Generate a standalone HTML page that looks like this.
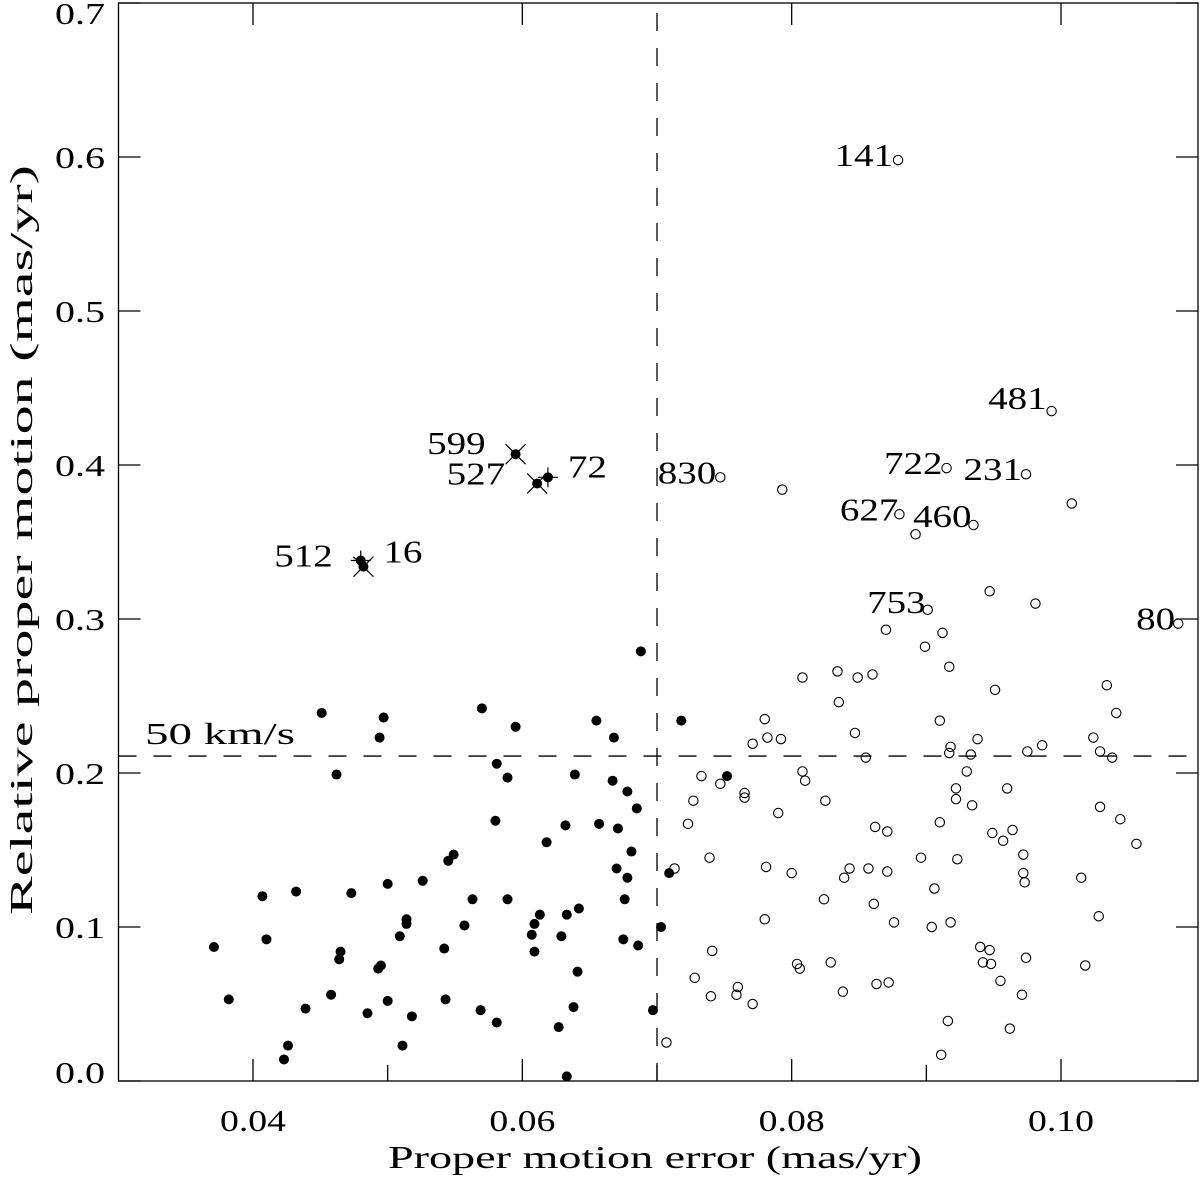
<!DOCTYPE html>
<html><head><meta charset="utf-8"><style>
html,body{margin:0;padding:0;background:#fff;}
svg{display:block;font-family:"Liberation Serif",serif;}
</style></head><body>
<svg id="chart" width="1200" height="1179" viewBox="0 0 1200 1179"></svg>
<script>
const filledX=[0.0688,0.0451,0.0497,0.0494,0.0570,0.0595,0.0655,0.0668,0.0462,0.0581,0.0589,0.0639,0.0667,0.0678,0.0685,0.0580,0.0632,0.0657,0.0671,0.0618,0.0681,0.0549,0.0545,0.0670,0.0678,0.0526,0.0500,0.0432,0.0473,0.0407,0.0563,0.0589,0.0676,0.0642,0.0613,0.0633,0.0514,0.0514,0.0609,0.0557,0.0703,0.0607,0.0410,0.0509,0.0629,0.0675,0.0686,0.0371,0.0542,0.0609,0.0465,0.0464,0.0495,0.0493,0.0641,0.0382,0.0458,0.0439,0.0500,0.0543,0.0485,0.0518,0.0569,0.0638,0.0697,0.0581,0.0627,0.0426,0.0423,0.0511,0.0633,0.0718,0.0752,0.0709];
const filledY=[0.279,0.239,0.236,0.223,0.242,0.230,0.234,0.223,0.199,0.206,0.197,0.199,0.195,0.188,0.177,0.169,0.166,0.167,0.164,0.155,0.149,0.147,0.143,0.138,0.132,0.130,0.128,0.123,0.122,0.120,0.118,0.118,0.118,0.112,0.108,0.108,0.105,0.102,0.102,0.101,0.100,0.095,0.092,0.094,0.094,0.092,0.088,0.087,0.086,0.084,0.084,0.079,0.075,0.073,0.071,0.053,0.056,0.047,0.052,0.053,0.044,0.042,0.046,0.048,0.046,0.038,0.035,0.023,0.014,0.023,0.003,0.234,0.198,0.135];
const openX=[0.0899,0.0917,0.0808,0.0834,0.0849,0.0860,0.0951,0.1034,0.0835,0.1041,0.0780,0.0910,0.0847,0.0782,0.0792,0.0938,0.1024,0.0771,0.0986,0.0918,0.0917,0.0975,0.1029,0.0855,0.0933,0.1038,0.0808,0.0733,0.0747,0.0810,0.0930,0.0922,0.0960,0.0765,0.0765,0.0727,0.0825,0.0922,0.0934,0.1029,0.0790,0.1044,0.0723,0.0910,0.0862,0.0871,0.0949,0.0964,0.0957,0.1056,0.0739,0.0896,0.0972,0.0713,0.0781,0.0800,0.0843,0.0857,0.0871,0.0923,0.0839,0.0972,0.0973,0.1015,0.0906,0.0824,0.0861,0.1028,0.0780,0.0876,0.0904,0.0918,0.0741,0.0940,0.0947,0.0974,0.0804,0.0806,0.0829,0.0942,0.0948,0.1018,0.0728,0.0955,0.0760,0.0740,0.0759,0.0771,0.0838,0.0863,0.0872,0.0971,0.0916,0.0962,0.0707,0.0911,
0.0879,0.0993,0.0915,0.0974,0.0747,0.0793,0.1008,0.0880,0.0935,0.0892,0.0947,0.0901,0.0981,0.1087,0.0870,0.0912];
const openY=[0.282,0.269,0.262,0.266,0.262,0.264,0.254,0.257,0.246,0.239,0.235,0.234,0.226,0.223,0.222,0.222,0.223,0.219,0.218,0.217,0.213,0.214,0.214,0.210,0.212,0.210,0.201,0.198,0.193,0.195,0.201,0.190,0.190,0.187,0.184,0.182,0.182,0.183,0.179,0.178,0.174,0.170,0.167,0.168,0.165,0.162,0.161,0.163,0.156,0.154,0.145,0.145,0.147,0.138,0.139,0.135,0.138,0.138,0.136,0.144,0.132,0.135,0.129,0.132,0.125,0.118,0.115,0.107,0.105,0.103,0.100,0.103,0.0845,0.087,0.085,0.080,0.076,0.073,0.077,0.077,0.076,0.075,0.067,0.065,0.061,0.055,0.056,0.050,0.058,0.063,0.064,0.056,0.039,0.034,0.025,0.017,
0.598,0.435,0.398,0.394,0.392,0.384,0.375,0.368,0.361,0.355,0.318,0.306,0.310,0.297,0.293,0.291];
const starX=[0.0595,0.0611,0.0619,0.0480,0.0482];
const starY=[0.407,0.388,0.392,0.338,0.334];
const starMark=['x','x','+','+','x'];
const labelText=['141','481','722','231','830','627','460','753','80','599','527','72','512','16'];
const labelX=[0.0879,0.0993,0.0915,0.0974,0.0747,0.0880,0.0935,0.0901,0.1087,0.0595,0.0611,0.0619,0.0480,0.0482];
const labelY=[0.598,0.435,0.398,0.394,0.392,0.368,0.361,0.306,0.297,0.407,0.388,0.392,0.338,0.334];
const xTicks=[0.04,0.06,0.08,0.10];
const xTickLabels=['0.04','0.06','0.08','0.10'];
const xMinor=[0.05,0.07,0.09];
const yTicks=[0.0,0.1,0.2,0.3,0.4,0.5,0.6,0.7];
const yTickLabels=['0.0','0.1','0.2','0.3','0.4','0.5','0.6','0.7'];
const vLine=0.07, hLine=0.211;

const L=118.5,R=1198,T=3,B=1081;
const X=v=>253+(v-0.04)*13467;
const Y=v=>1081-v*1540;
const NS='http://www.w3.org/2000/svg';
const svg=document.getElementById('chart');
function mk(tag,attrs,parent){const e=document.createElementNS(NS,tag);for(const k in attrs)e.setAttribute(k,attrs[k]);(parent||svg).appendChild(e);return e;}

const frame=mk('rect',{x:L,y:T,width:R-L,height:B-T,fill:'none',stroke:'#000','stroke-width':1.3});



const ticks=mk('g',{stroke:'#000','stroke-width':1.3});


xTicks.forEach((v,i)=>{const x=X(v);
  mk('line',{x1:x,x2:x,y1:B,y2:B-22},ticks);mk('line',{x1:x,x2:x,y1:T,y2:T+22},ticks);
  const t=mk('text',{x:x,y:1131,'text-anchor':'middle','font-size':31,fill:'#000',textLength:66,lengthAdjust:'spacingAndGlyphs'});
  t.textContent=xTickLabels[i];
  
  
});
xMinor.forEach(v=>{const x=X(v);mk('line',{x1:x,x2:x,y1:B,y2:B-16},ticks);});
yTicks.forEach((v,i)=>{const y=Y(v);
  mk('line',{x1:L,x2:L+22,y1:y,y2:y},ticks);mk('line',{x1:R,x2:R-22,y1:y,y2:y},ticks);
  const t=mk('text',{x:105,y:Math.min(Math.max(y+11,24),1083),'text-anchor':'end','font-size':31,fill:'#000',textLength:50,lengthAdjust:'spacingAndGlyphs'});
  t.textContent=yTickLabels[i];
  
  
});

const xt=mk('text',{x:655,y:1168,'text-anchor':'middle','font-size':32,fill:'#000',textLength:534,lengthAdjust:'spacingAndGlyphs'});
xt.textContent='Proper motion error (mas/yr)';


const yt=mk('text',{x:0,y:0,'text-anchor':'middle','font-size':32,fill:'#000',textLength:750,lengthAdjust:'spacingAndGlyphs',transform:'translate(32,540) rotate(-90)'});
yt.textContent='Relative proper motion (mas/yr)';



const vl=mk('line',{x1:X(vLine),x2:X(vLine),y1:B,y2:T,stroke:'#000','stroke-width':1.3,'stroke-dasharray':'18 17'});


const hl=mk('line',{x1:L,x2:R,y1:Y(hLine),y2:Y(hLine),stroke:'#000','stroke-width':1.3,'stroke-dasharray':'18 17'});


const hlt=mk('text',{x:145,y:744,'font-size':31,fill:'#000',textLength:150,lengthAdjust:'spacingAndGlyphs'});
hlt.textContent='50 km/s';



filledX.forEach((v,i)=>{const c=mk('circle',{cx:X(v),cy:Y(filledY[i]),r:5,fill:'#000'});
  
  });
openX.forEach((v,i)=>{const c=mk('circle',{cx:X(v),cy:Y(openY[i]),r:4.7,fill:'none',stroke:'#000','stroke-width':1.1});
  
  });
starX.forEach((v,i)=>{const cx=X(v),cy=Y(starY[i]);
  const g=mk('g',{stroke:'#000','stroke-width':1.2});
  
  
  if(starMark[i]==='x'){mk('line',{x1:cx-10,y1:cy-10,x2:cx+10,y2:cy+10},g);mk('line',{x1:cx-10,y1:cy+10,x2:cx+10,y2:cy-10},g);}
  else{mk('line',{x1:cx-10,y1:cy,x2:cx+10,y2:cy},g);mk('line',{x1:cx,y1:cy-10,x2:cx,y2:cy+10},g);}
  mk('circle',{cx:cx,cy:cy,r:5,fill:'#000',stroke:'none'},g);
});
const labOff=[[-5,6,'end'],[-5,-2,'end'],[-4,6,'end'],[-4,6,'end'],[-4,6,'end'],[-1,6,'end'],[-2,2,'end'],[-2,3,'end'],[-3,6,'end'],[-30,0,'end'],[-32,1,'end'],[20,0,'start'],[-28,6,'end'],[20,-4,'start']];
labelText.forEach((s,i)=>{const o=labOff[i];
  const t=mk('text',{x:X(labelX[i])+o[0],y:Y(labelY[i])+o[1],'text-anchor':o[2],'font-size':32,fill:'#000',textLength:s.length*19.5,lengthAdjust:'spacingAndGlyphs'});
  t.textContent=s;
  
  });
</script>
</body></html>
